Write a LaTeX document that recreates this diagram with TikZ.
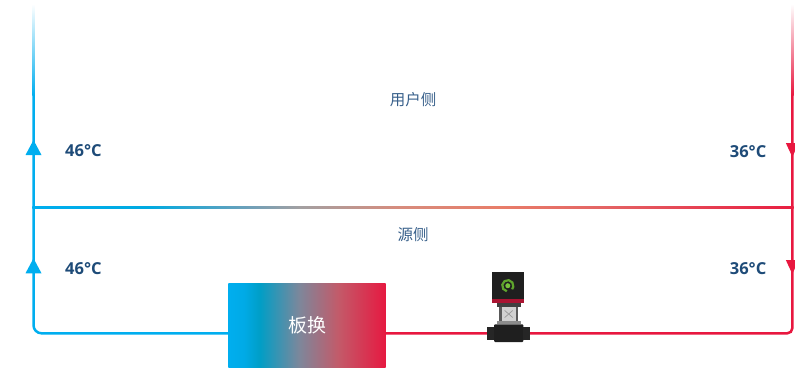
\documentclass[tikz,border=0pt]{standalone}
\usepackage{fontspec}
\setmainfont{Open Sans}
\newfontfamily\cjk{Noto Sans CJK SC}
\definecolor{cblue}{RGB}{0,174,239}
\definecolor{cred}{RGB}{232,23,63}
\definecolor{tempc}{RGB}{30,75,120}
\definecolor{sidec}{RGB}{55,95,138}
\definecolor{mA}{RGB}{0,170,225}
\definecolor{mB}{RGB}{110,160,185}
\definecolor{mC}{RGB}{162,160,162}
\definecolor{mD}{RGB}{215,140,125}
\definecolor{mE}{RGB}{232,125,105}
\definecolor{mF}{RGB}{228,100,100}
\definecolor{mG}{RGB}{232,30,65}
\definecolor{pA}{RGB}{0,170,230}
\definecolor{pB}{RGB}{0,158,198}
\definecolor{pC}{RGB}{125,135,155}
\definecolor{pD}{RGB}{195,90,105}
\definecolor{pE}{RGB}{230,25,65}
\definecolor{ringg}{RGB}{95,165,45}
\definecolor{dotg}{RGB}{120,195,60}
\definecolor{motorband}{RGB}{170,20,50}
% horizontal blends: the path spans 25bp..75bp of the shading
\pgfdeclarehorizontalshading{midline}{100bp}{color(0bp)=(cblue); color(25bp)=(cblue);
  color(32.6bp)=(mA); color(39.2bp)=(mB); color(42.5bp)=(mC); color(49.1bp)=(mD);
  color(55.7bp)=(mE); color(62.5bp)=(mF); color(75bp)=(mG); color(100bp)=(mG)}
\pgfdeclarehorizontalshading{platehx}{100bp}{color(0bp)=(cblue); color(25bp)=(cblue);
  color(30bp)=(pA); color(35bp)=(pB); color(47.5bp)=(pC); color(60bp)=(pD);
  color(75bp)=(pE); color(100bp)=(pE)}
\tikzset{
  pipe/.style={line width=2.5pt},
  bluepipe/.style={pipe, draw=cblue},
  redpipe/.style={pipe, draw=cred},
  temp/.style={font=\bfseries\fontsize{16.5}{18}\selectfont, text=tempc, inner sep=0pt},
  side/.style={font=\cjk\fontsize{15.5}{17}\selectfont, text=sidec, inner sep=0pt},
  hxbox/.style={shade, shading=platehx, minimum width=157.4pt, minimum height=83.7pt,
    inner sep=0pt, font=\cjk\fontsize{19}{20}\selectfont, text=white},
}
\begin{document}
\begin{tikzpicture}[x=1pt,y=-1pt]
\useasboundingbox (0,0) rectangle (795,367);

% plate heat exchanger
\node[hxbox] (hx) at (307,325.2) {\raisebox{-1.5pt}{板换}};

% pipe geometry
\coordinate (loopY) at (0,333.3);
\coordinate (topL) at (33.5,95);
\coordinate (topR) at (792.3,95);
\coordinate (cornL) at (33.5,333.3);
\coordinate (cornR) at (792.3,333.3);

% fading ends at the top
\shade[top color=white, bottom color=cblue] (32.25,4) rectangle (34.75,95.5);
\shade[top color=white, bottom color=cred] (791.05,4) rectangle (793.55,95.5);

% supply (blue) and return (red) legs
\draw[bluepipe, rounded corners=8pt] (topL) -- (cornL) -- (hx.west |- loopY);
\draw[redpipe, rounded corners=5pt] (topR) -- (cornR) -- (hx.east |- loopY);

% cross connection between the two legs
\coordinate (jL) at (32.25,206.25);
\coordinate (jR) at (793.55,208.75);
\shade[shading=midline] (jL) rectangle (jR);

% flow direction marks
\coordinate (aL1) at (33.5,147.5);
\coordinate (aL2) at (33.5,265.8);
\coordinate (aR1) at (792.3,150);
\coordinate (aR2) at (792.3,267);
\foreach \a in {aL1,aL2}
  \fill[cblue] (\a) ++(0,-7.5) -- ++(8,15) -- ++(-16,0) -- cycle;
\foreach \a in {aR1,aR2}
  \fill[cred] (\a) ++(0,7) -- ++(6.5,-14) -- ++(-13,0) -- cycle;

% temperatures
\node[temp, anchor=west] (t1) at (65,151) {46°C};
\node[temp, anchor=west] (t2) at (65,268.5) {46°C};
\node[temp, anchor=east] (t3) at (766.5,151.5) {36°C};
\node[temp, anchor=east] (t4) at (766.5,268.5) {36°C};

% side labels
\node[side] (user) at (413,99.7) {用户侧};
\node[side] (src) at (413,235) {源侧};

% circulation pump
\coordinate (pump) at (508.7,307);
\begin{scope}[shift={(pump)}]
  \fill[black!88] (-17,-35.3) rectangle (15.3,-7.7);
  \fill[motorband] (-17,-7.7) rectangle (15.3,-4.3);
  \draw[ringg, line width=2.2pt] (-0.9,-21.3) ++(100:5.6) arc (100:400:5.6);
  \fill[dotg] (-0.9,-21.3) circle (2.5);
  \fill[black!75] (-12,-4.3) rectangle (12,0.3);
  \fill[black!18] (-9.4,0.3) rectangle (9.3,14);
  \fill[black!65] (-9.4,0.3) rectangle (-7.2,14);
  \fill[black!65] (7.1,0.3) rectangle (9.3,14);
  \draw[black!40, line width=0.7pt] (-4,3.5) -- (4,10.5) (-4,10.5) -- (4,3.5);
  \fill[black!45] (-12,14) rectangle (12,17.3);
  \fill[black!88, rounded corners=1pt] (-14.7,17.3) rectangle (14.6,35);
  \fill[black!85] (-21.4,19.7) rectangle (-14.7,33);
  \fill[black!85] (14.6,19.7) rectangle (21.3,33);
\end{scope}
\end{tikzpicture}
\end{document}
